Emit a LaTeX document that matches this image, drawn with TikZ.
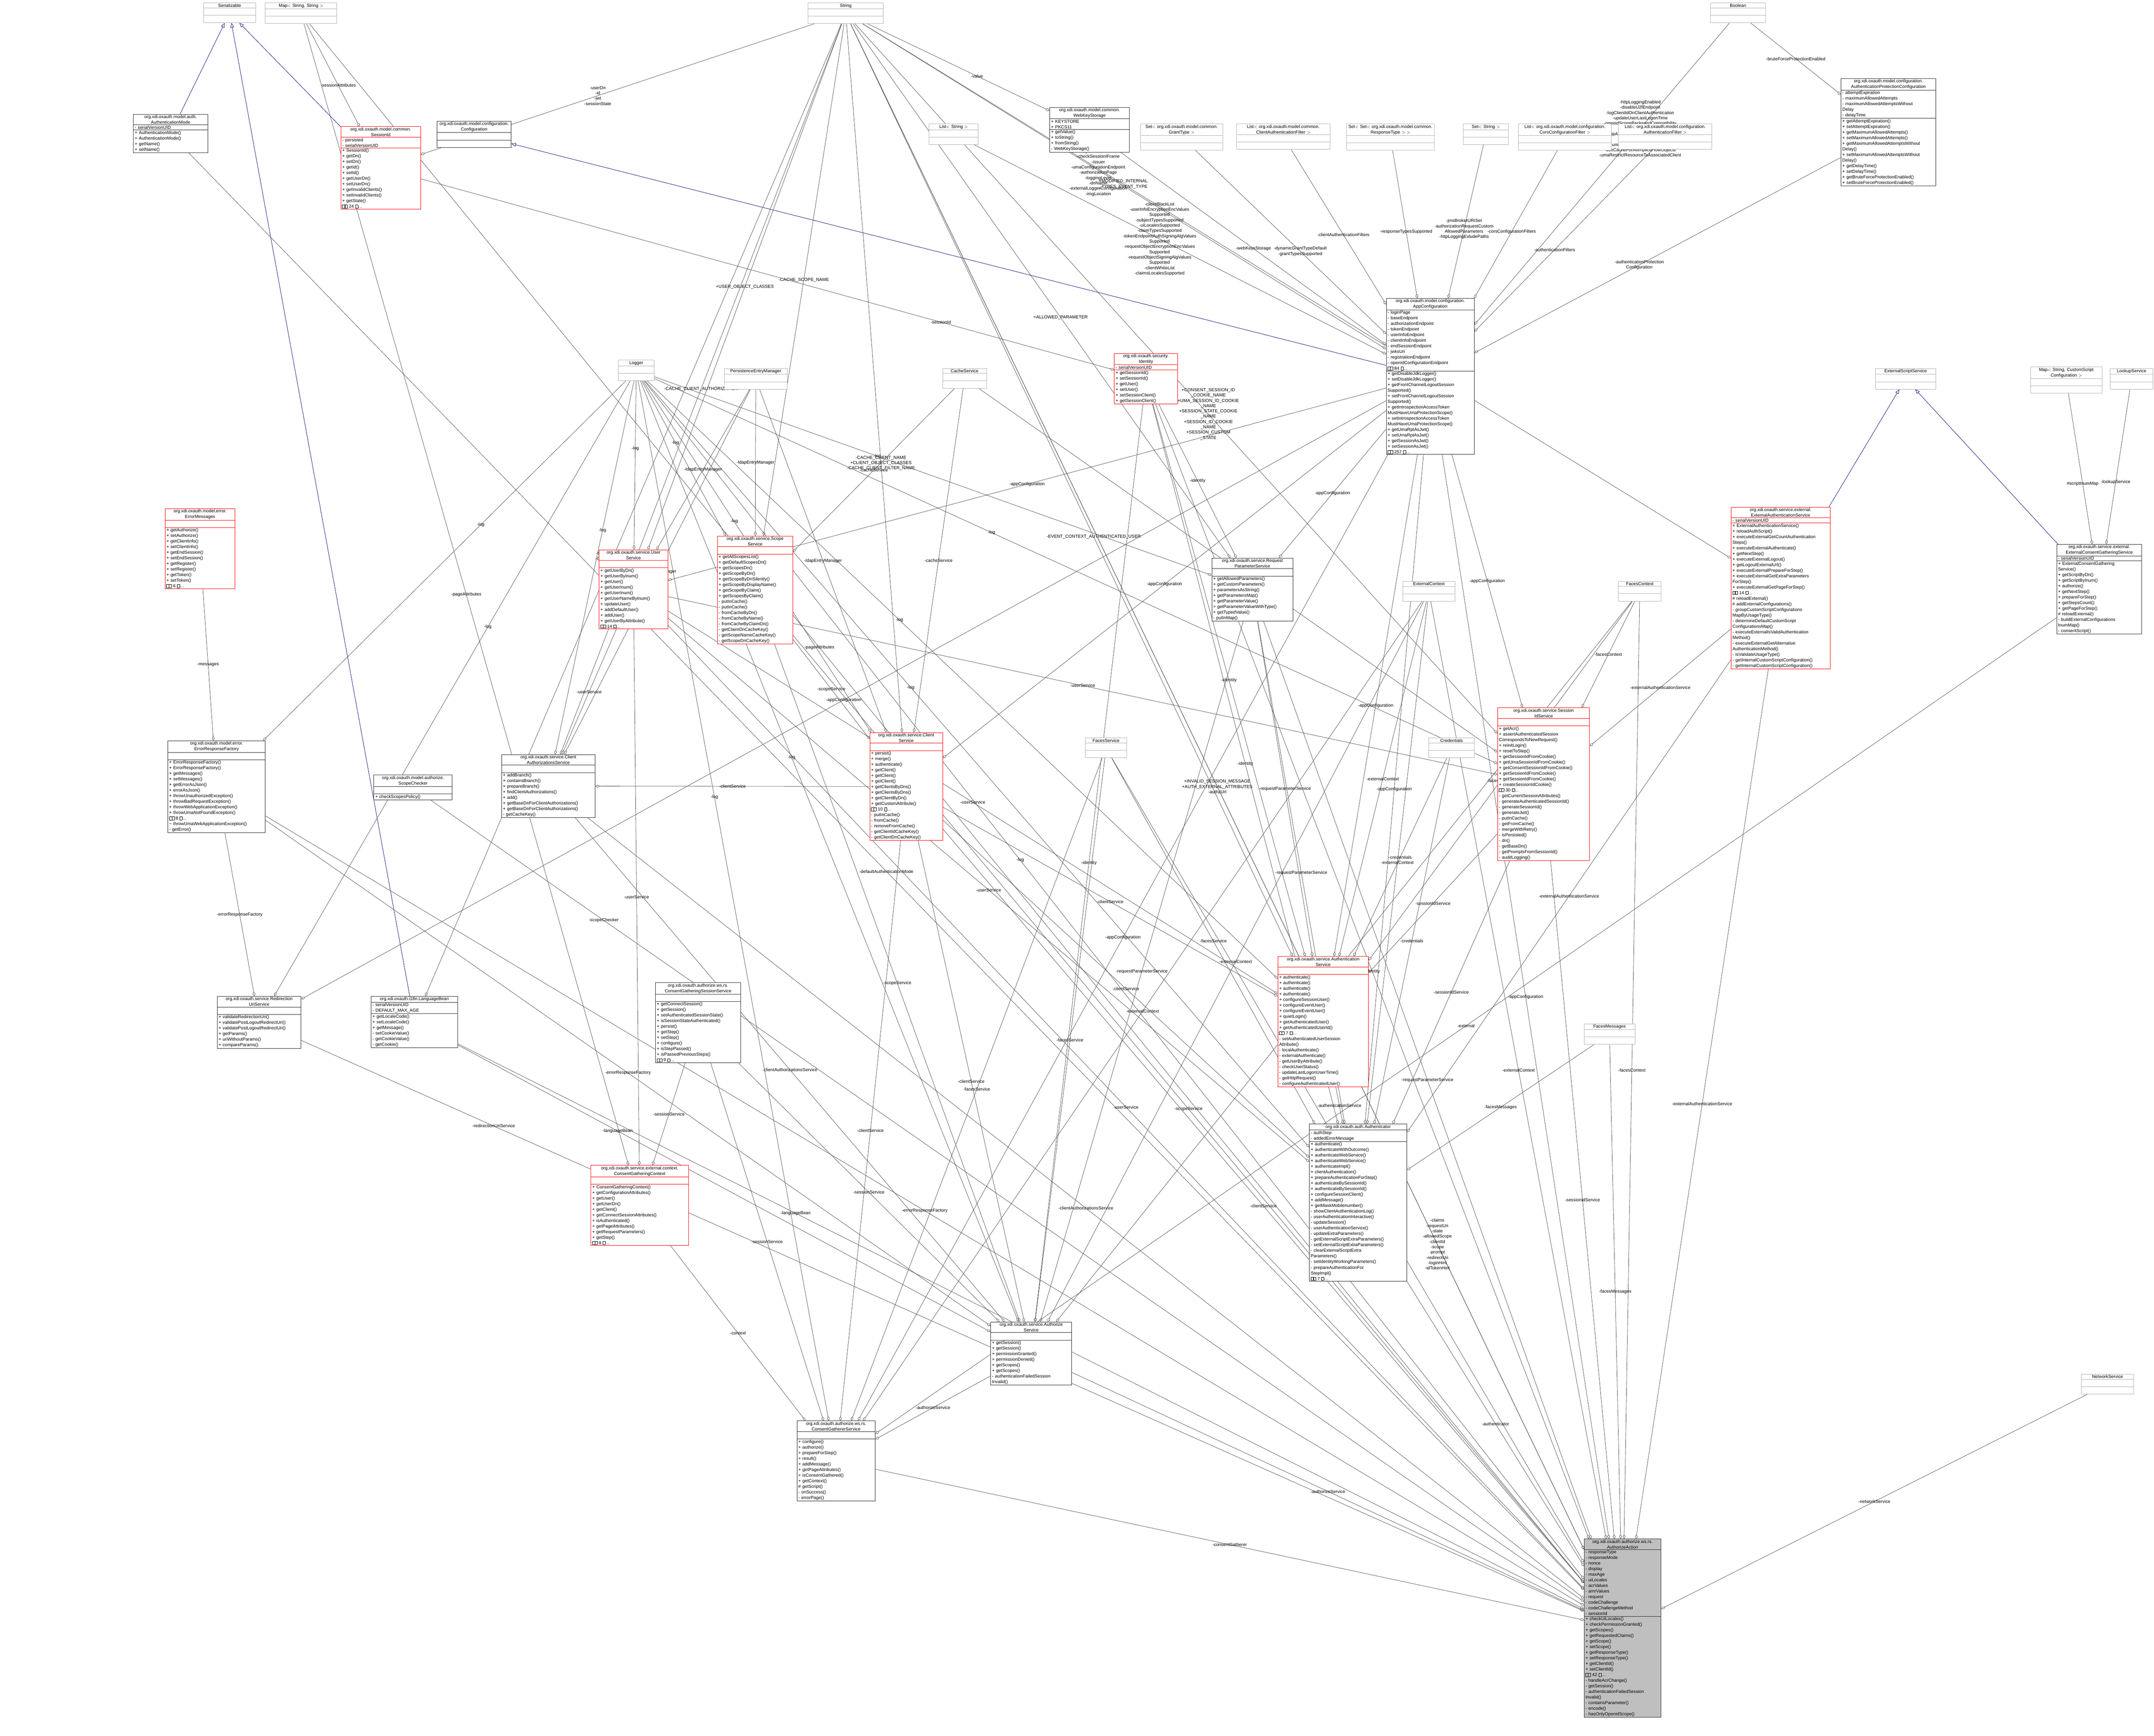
\documentclass[tikz,border=0pt]{standalone}
\usepackage{fontspec}
\setmainfont{Liberation Sans}
\usetikzlibrary{shapes.multipart,arrows.meta,backgrounds}

\newcommand{\sq}{{\fboxsep0pt\fboxrule0.15pt\fbox{\hspace{0.55em}\rule{0pt}{0.7em}}}}
\newcommand{\more}[1]{\sq\sq\ #1 \sq\ldots}
% class box: name, x, y, width, style, title, attributes, methods
\newcommand{\cls}[8]{%
  \pgfmathsetlengthmacro\clsw{#4*1mm-2mm}%
  \node[clsbox, #5, text width=\clsw] (#1) at (#2,-#3)
    {\centering #6\par\nodepart{two}\raggedright #7\par\nodepart{three}\raggedright #8\par};}

\tikzset{
  clsbox/.style={rectangle split, rectangle split parts=3, draw, fill=white,
    anchor=north west, inner xsep=1mm, inner ysep=0.5mm, line width=0.3mm,
    font=\fontsize{9.2pt}{11.6pt}\selectfont},
  plain/.style={draw=black!85},
  redb/.style={draw=red},
  grayb/.style={draw=black!30},
  selfb/.style={draw=black!85, fill=black!25},
  comp/.style={draw=black!70, line width=0.25mm,
    -{Diamond[open,length=3.2mm,width=2mm]}},
  inh/.style={draw=blue!45!black, line width=0.25mm,
    -{Triangle[open,length=3.2mm,width=2.6mm]}},
  lbl/.style={font=\fontsize{9.2pt}{11pt}\selectfont, align=center, inner sep=0.5mm}
}

\begin{document}
\begin{tikzpicture}[x=1mm,y=1mm]
\useasboundingbox (0,0) rectangle (1568,-1263.3);

% external types
\cls{serializable}{148}{2}{38}{grayb}{Serializable}{\strut}{\strut}
\cls{mapSS}{193}{2}{52}{grayb}{Map$<$ String, String $>$}{\strut}{\strut}
\cls{string}{588}{2}{55}{grayb}{String}{\strut}{\strut}
\cls{boolean}{1245}{2}{40}{grayb}{Boolean}{\strut}{\strut}
\cls{listString}{676}{90}{36}{grayb}{List$<$ String $>$}{\strut}{\strut}
\cls{setGrant}{830}{90}{60}{grayb}{Set$<$ org.xdi.oxauth.model.common.\\GrantType $>$}{\strut}{\strut}
\cls{listClientFilter}{900}{90}{68}{grayb}{List$<$ org.xdi.oxauth.model.common.\\ClientAuthenticationFilter $>$}{\strut}{\strut}
\cls{setResponse}{980}{90}{64}{grayb}{Set$<$ Set$<$ org.xdi.oxauth.model.common.\\ResponseType $>$ $>$}{\strut}{\strut}
\cls{setString}{1065}{90}{33}{grayb}{Set$<$ String $>$}{\strut}{\strut}
\cls{listCors}{1105}{90}{68}{grayb}{List$<$ org.xdi.oxauth.model.configuration.\\CorsConfigurationFilter $>$}{\strut}{\strut}
\cls{listAuthFilter}{1178}{90}{68}{grayb}{List$<$ org.xdi.oxauth.model.configuration.\\AuthenticationFilter $>$}{\strut}{\strut}
\cls{logger}{450}{262}{26}{grayb}{Logger}{\strut}{\strut}
\cls{persistence}{527}{268}{46}{grayb}{PersistenceEntryManager}{\strut}{\strut}
\cls{cacheSvc}{686}{268}{32}{grayb}{CacheService}{\strut}{\strut}
\cls{extScriptSvc}{1365}{268}{44}{grayb}{ExternalScriptService}{\strut}{\strut}
\cls{mapScript}{1478}{267}{52}{grayb}{Map$<$ String, CustomScript\\Configuration $>$}{\strut}{\strut}
\cls{lookupSvc}{1536}{268}{31}{grayb}{LookupService}{\strut}{\strut}
\cls{extContext}{1021}{423}{38}{grayb}{ExternalContext}{\strut}{\strut}
\cls{facesContext}{1178}{423}{31}{grayb}{FacesContext}{\strut}{\strut}
\cls{facesSvc}{790}{537}{30}{grayb}{FacesService}{\strut}{\strut}
\cls{credentials}{1040}{537}{33}{grayb}{Credentials}{\strut}{\strut}
\cls{facesMessages}{1153}{745}{37}{grayb}{FacesMessages}{\strut}{\strut}
\cls{networkSvc}{1515}{1000}{38}{grayb}{NetworkService}{\strut}{\strut}

% model classes
\cls{authMode}{97}{83}{54}{plain}{org.xdi.oxauth.model.auth.\\AuthenticationMode}{- serialVersionUID}
  {+ AuthenticationMode()\\+ AuthenticationMode()\\+ getName()\\+ setName()}
\cls{sessionId}{248}{92}{58}{redb}{org.xdi.oxauth.model.common.\\SessionId}{- persisted\\- serialVersionUID}
  {+ SessionId()\\+ getDn()\\+ setDn()\\+ getId()\\+ setId()\\+ getUserDn()\\+ setUserDn()\\+ getInvalidClients()\\+ setInvalidClients()\\+ getState()\\\more{24}}
\cls{configuration}{318}{88}{54}{plain}{org.xdi.oxauth.model.configuration.\\Configuration}{\strut}{\strut}
\cls{webKeyStorage}{764}{78}{58}{plain}{org.xdi.oxauth.model.common.\\WebKeyStorage}{+ KEYSTORE\\+ PKCS11}
  {+ getValue()\\+ toString()\\+ fromString()\\- WebKeyStorage()}
\cls{protConfig}{1340}{57}{69}{plain}{org.xdi.oxauth.model.configuration.\\AuthenticationProtectionConfiguration}
  {- attemptExpiration\\- maximumAllowedAttempts\\- maximumAllowedAttemptsWithout\\Delay\\- delayTime}
  {+ getAttemptExpiration()\\+ setAttemptExpiration()\\+ getMaximumAllowedAttempts()\\+ setMaximumAllowedAttempts()\\+ getMaximumAllowedAttemptsWithout\\Delay()\\+ setMaximumAllowedAttemptsWithout\\Delay()\\+ getDelayTime()\\+ setDelayTime()\\+ getBruteForceProtectionEnabled()\\+ setBruteForceProtectionEnabled()}
\cls{appConfig}{1009}{217}{64}{plain}{org.xdi.oxauth.model.configuration.\\AppConfiguration}
  {- loginPage\\- baseEndpoint\\- authorizationEndpoint\\- tokenEndpoint\\- userInfoEndpoint\\- clientInfoEndpoint\\- endSessionEndpoint\\- jwksUri\\- registrationEndpoint\\- openIdConfigurationEndpoint\\\more{84}}
  {+ getDisableJdkLogger()\\+ setDisableJdkLogger()\\+ getFrontChannelLogoutSession\\Supported()\\+ setFrontChannelLogoutSession\\Supported()\\+ getIntrospectionAccessToken\\MustHaveUmaProtectionScope()\\+ setIntrospectionAccessToken\\MustHaveUmaProtectionScope()\\+ getUmaRptAsJwt()\\+ setUmaRptAsJwt()\\+ getSessionAsJwt()\\+ setSessionAsJwt()\\\more{257}}
\cls{identity}{811}{257}{46}{redb}{org.xdi.oxauth.security.\\Identity}{- serialVersionUID}
  {+ getSessionId()\\+ setSessionId()\\+ getUser()\\+ setUser()\\+ setSessionClient()\\+ getSessionClient()}
\cls{errorMessages}{120}{370}{51}{redb}{org.xdi.oxauth.model.error.\\ErrorMessages}{\strut}
  {+ getAuthorize()\\+ setAuthorize()\\+ getClientInfo()\\+ setClientInfo()\\+ getEndSession()\\+ setEndSession()\\+ getRegister()\\+ setRegister()\\+ getToken()\\+ setToken()\\\more{6}}

% services
\cls{userSvc}{436}{400}{50}{redb}{org.xdi.oxauth.service.User\\Service}{\strut}
  {+ getUserByDn()\\+ getUserByInum()\\+ getUser()\\+ getUserInum()\\+ getUserInum()\\+ getUserNameByInum()\\+ updateUser()\\+ addDefaultUser()\\+ addUser()\\+ getUserByAttribute()\\\more{14}}
\cls{scopeSvc}{522}{390}{55}{redb}{org.xdi.oxauth.service.Scope\\Service}{\strut}
  {+ getAllScopesList()\\+ getDefaultScopesDn()\\+ getScopesDn()\\+ getScopeByDn()\\+ getScopeByDnSilently()\\+ getScopeByDisplayName()\\+ getScopeByClaim()\\+ getScopesByClaim()\\- putInCache()\\- putInCache()\\- fromCacheByDn()\\- fromCacheByName()\\- fromCacheByClaimDn()\\- getClaimDnCacheKey()\\- getScopeNameCacheKey()\\- getScopeDnCacheKey()}
\cls{clientSvc}{633}{533}{53}{redb}{org.xdi.oxauth.service.Client\\Service}{\strut}
  {+ persist()\\+ merge()\\+ authenticate()\\+ getClient()\\+ getClient()\\+ getClient()\\+ getClientsByDns()\\+ getClientsByDns()\\+ getClientByDn()\\+ getCustomAttribute()\\\more{10}\\- putInCache()\\- fromCache()\\- removeFromCache()\\- getClientIdCacheKey()\\- getClientDnCacheKey()}
\cls{requestParamSvc}{882}{406}{59}{plain}{org.xdi.oxauth.service.Request\\ParameterService}{\strut}
  {+ getAllowedParameters()\\+ getCustomParameters()\\+ parametersAsString()\\+ getParametersMap()\\+ getParameterValue()\\+ getParameterValueWithType()\\+ getTypedValue()\\- putInMap()}
\cls{extAuthSvc}{1260}{369}{72}{redb}{org.xdi.oxauth.service.external.\\ExternalAuthenticationService}{- serialVersionUID}
  {+ ExternalAuthenticationService()\\+ reloadAuthScript()\\+ executeExternalGetCountAuthentication\\Steps()\\+ executeExternalAuthenticate()\\+ getNextStep()\\+ executeExternalLogout()\\+ getLogoutExternalUrl()\\+ executeExternalPrepareForStep()\\+ executeExternalGetExtraParameters\\ForStep()\\+ executeExternalGetPageForStep()\\\more{14}\\\# reloadExternal()\\\# addExternalConfigurations()\\- groupCustomScriptConfigurations\\MapByUsageType()\\- determineDefaultCustomScript\\ConfigurationsMap()\\- executeExternalIsValidAuthentication\\Method()\\- executeExternalGetAlternative\\AuthenticationMethod()\\- isValidateUsageType()\\- getInternalCustomScriptConfiguration()\\- getInternalCustomScriptConfiguration()}
\cls{extConsentSvc}{1497}{396}{62}{plain}{org.xdi.oxauth.service.external.\\ExternalConsentGatheringService}{- serialVersionUID}
  {+ ExternalConsentGathering\\Service()\\+ getScriptByDn()\\+ getScriptByInum()\\+ authorize()\\+ getNextStep()\\+ prepareForStep()\\+ getStepsCount()\\+ getPageForStep()\\\# reloadExternal()\\- buildExternalConfigurations\\InumMap()\\- consentScript()}
\cls{sessionIdSvc}{1090}{515}{67}{redb}{org.xdi.oxauth.service.Session\\IdService}{\strut}
  {+ getAcr()\\+ assertAuthenticatedSession\\CorrespondsToNewRequest()\\+ reinitLogin()\\+ resetToStep()\\+ getSessionIdFromCookie()\\+ getUmaSessionIdFromCookie()\\+ getConsentSessionIdFromCookie()\\+ getSessionIdFromCookie()\\+ getSessionIdFromCookie()\\+ createSessionIdCookie()\\\more{30}\\- getCurrentSessionAttributes()\\- generateAuthenticatedSessionId()\\- generateSessionId()\\- generateJwt()\\- putInCache()\\- getFromCache()\\- mergeWithRetry()\\- isPersisted()\\- dn()\\- getBaseDn()\\- getPromptsFromSessionId()\\- auditLogging()}
\cls{errorFactory}{122}{539}{71}{plain}{org.xdi.oxauth.model.error.\\ErrorResponseFactory}{\strut}
  {+ ErrorResponseFactory()\\+ ErrorResponseFactory()\\+ getMessages()\\+ setMessages()\\+ getErrorAsJson()\\+ errorAsJson()\\+ throwUnauthorizedException()\\+ throwBadRequestException()\\+ throwWebApplicationException()\\+ throwUmaNotFoundException()\\\more{8}\\\textasciitilde\ throwUmaWebApplicationException()\\- getError()}
\cls{scopeChecker}{272}{564}{57}{plain}{org.xdi.oxauth.model.authorize.\\ScopeChecker}{\strut}{+ checkScopesPolicy()}
\cls{clientAuthzSvc}{365}{549}{68}{plain}{org.xdi.oxauth.service.Client\\AuthorizationsService}{\strut}
  {+ addBranch()\\+ containsBranch()\\+ prepareBranch()\\+ findClientAuthorizations()\\+ add()\\+ getBaseDnForClientAuthorizations()\\+ getBaseDnForClientAuthorizations()\\- getCacheKey()}
\cls{authnSvc}{930}{696}{66}{redb}{org.xdi.oxauth.service.Authentication\\Service}{\strut}
  {+ authenticate()\\+ authenticate()\\+ authenticate()\\+ authenticate()\\+ configureSessionUser()\\+ configureEventUser()\\+ configureEventUser()\\+ quietLogin()\\+ getAuthenticatedUser()\\+ getAuthenticatedUserId()\\\more{7}\\- setAuthenticatedUserSession\\Attribute()\\- localAuthenticate()\\- externalAuthenticate()\\- getUserByAttribute()\\- checkUserStatus()\\- updateLastLogonUserTime()\\- getHttpRequest()\\- configureAuthenticatedUser()}
\cls{redirectSvc}{158}{725}{61}{plain}{org.xdi.oxauth.service.Redirection\\UriService}{\strut}
  {+ validateRedirectionUri()\\+ validatePostLogoutRedirectUri()\\+ validatePostLogoutRedirectUri()\\+ getParams()\\+ uriWithoutParams()\\+ compareParams()}
\cls{languageBean}{270}{725}{63}{plain}{org.xdi.oxauth.i18n.LanguageBean}{- serialVersionUID\\- DEFAULT\_MAX\_AGE}
  {+ getLocaleCode()\\+ setLocaleCode()\\+ getMessage()\\- setCookieValue()\\- getCookieValue()\\- getCookie()}
\cls{consentSessionSvc}{477}{715}{62}{plain}{org.xdi.oxauth.authorize.ws.rs.\\ConsentGatheringSessionService}{\strut}
  {+ getConnectSession()\\+ getSession()\\+ setAuthenticatedSessionState()\\+ isSessionStateAuthenticated()\\+ persist()\\+ getStep()\\+ setStep()\\+ configure()\\+ isStepPassed()\\+ isPassedPreviousSteps()\\\more{9}}
\cls{authenticator}{953}{818}{71}{plain}{org.xdi.oxauth.auth.Authenticator}{- authStep\\- addedErrorMessage}
  {+ authenticate()\\+ authenticateWithOutcome()\\+ authenticateWebService()\\+ authenticateWebService()\\+ authenticateImpl()\\+ clientAuthentication()\\+ prepareAuthenticationForStep()\\+ authenticateBySessionId()\\+ authenticateBySessionId()\\+ configureSessionClient()\\+ addMessage()\\+ getMaskMobilenumber()\\- showClientAuthenticationLog()\\- userAuthenticationInteractive()\\- updateSession()\\- userAuthenticationService()\\- updateExtraParameters()\\- getExternalScriptExtraParameters()\\- setExternalScriptExtraParameters()\\- clearExternalScriptExtra\\Parameters()\\- setIdentityWorkingParameters()\\- prepareAuthenticationFor\\StepImpl()\\\more{7}}
\cls{consentContext}{430}{848}{71}{redb}{org.xdi.oxauth.service.external.context.\\ConsentGatheringContext}{\strut}
  {+ ConsentGatheringContext()\\+ getConfigurationAttributes()\\+ getUser()\\+ getUserDn()\\+ getClient()\\+ getConnectSessionAttributes()\\+ isAuthenticated()\\+ getPageAttributes()\\+ getRequestParameters()\\+ getStep()\\\more{8}}
\cls{authorizeSvc}{721}{962}{59}{plain}{org.xdi.oxauth.service.Authorize\\Service}{\strut}
  {+ getSession()\\+ getSession()\\+ permissionGranted()\\+ permissionDenied()\\+ getScopes()\\+ getScopes()\\- authenticationFailedSession\\Invalid()}
\cls{consentGatherer}{580}{1034}{57}{plain}{org.xdi.oxauth.authorize.ws.rs.\\ConsentGathererService}{\strut}
  {+ configure()\\+ authorize()\\+ prepareForStep()\\+ result()\\+ addMessage()\\+ getPageAttributes()\\+ isConsentGathered()\\+ getContext()\\\# getScript()\\- onSuccess()\\- errorPage()}
\cls{authAction}{1153}{1120}{56}{selfb}{org.xdi.oxauth.authorize.ws.rs.\\AuthorizeAction}
  {- responseType\\- responseMode\\- nonce\\- display\\- maxAge\\- uiLocales\\- acrValues\\- amrValues\\- request\\- codeChallenge\\- codeChallengeMethod\\- sessionId}
  {+ checkUiLocales()\\+ checkPermissionGranted()\\+ getScopes()\\+ getRequestedClaims()\\+ getScope()\\+ setScope()\\+ getResponseType()\\+ setResponseType()\\+ getClientId()\\+ setClientId()\\\more{42}\\- handleAcrChange()\\- getSession()\\- authenticationFailedSession\\Invalid()\\- containsParameter()\\- encode()\\- hasOnlyOpenidScope()}

\begin{pgfonlayer}{background}
  % inheritance
  \foreach \s/\t in {authMode/serializable, sessionId/serializable, languageBean/serializable,
      appConfig/configuration, extAuthSvc/extScriptSvc, extConsentSvc/extScriptSvc}
    \draw[inh] (\s) -- (\t);
  % members
  \draw[comp] (string) -- (sessionId) node[lbl, pos=0.55] {-userDn\\-id\\-jwt\\-sessionState};
  \draw[comp] (mapSS) -- (sessionId) node[lbl, pos=0.6] {-sessionAttributes};
  \draw[comp] (string) -- (webKeyStorage) node[lbl, pos=0.6] {-value};
  \draw[comp] (boolean) -- (protConfig) node[lbl, pos=0.5] {-bruteForceProtectionEnabled};
  \draw[comp] (string) -- (appConfig) node[lbl, pos=0.45] {-openIdDiscoveryEndpoint\\-jmsPassword\\-checkSessionIFrame\\-issuer\\-umaConfigurationEndpoint\\-authorizationPage\\-loggingLevel\\-dnName\\-externalLoggerConfiguration\\-imgLocation};
  \draw[comp] (listString) -- (appConfig) node[lbl, pos=0.45] {-clientBlackList\\-userInfoEncryptionEncValues\\Supported\\-subjectTypesSupported\\-uiLocalesSupported\\-claimTypesSupported\\-tokenEndpointAuthSigningAlgValues\\Supported\\-requestObjectEncryptionEncValues\\Supported\\-requestObjectSigningAlgValues\\Supported\\-clientWhiteList\\-claimsLocalesSupported};
  \draw[comp] (webKeyStorage) -- (appConfig) node[lbl, pos=0.5] {-webKeysStorage};
  \draw[comp] (setGrant) -- (appConfig) node[lbl, pos=0.55] {-dynamicGrantTypeDefault\\-grantTypesSupported};
  \draw[comp] (listClientFilter) -- (appConfig) node[lbl, pos=0.55] {-clientAuthenticationFilters};
  \draw[comp] (setResponse) -- (appConfig) node[lbl, pos=0.55] {-responseTypesSupported};
  \draw[comp] (setString) -- (appConfig) node[lbl, pos=0.55] {-jmsBrokerURISet\\-authorizationRequestCustom\\AllowedParameters\\-httpLoggingExludePaths};
  \draw[comp] (listCors) -- (appConfig) node[lbl, pos=0.55] {-corsConfigurationFilters};
  \draw[comp] (listAuthFilter) -- (appConfig) node[lbl, pos=0.55] {-authenticationFilters};
  \draw[comp] (boolean) -- (appConfig) node[lbl, pos=0.35] {-httpLoggingEnabled\\-disableU2fEndpoint\\-logClientIdOnClientAuthentication\\-updateUserLastLogonTime\\-openidScopeBackwardCompatibility\\-disableJdkLogger\\-skipAuthorizationForOpenIdScope\\AndPairwiseId\\-umaGrantAccessIfNoPolicies\\-useCacheForAllImplicitFlowObjects\\-umaRestrictResourceToAssociatedClient};
  \draw[comp] (protConfig) -- (appConfig) node[lbl, pos=0.55] {-authenticationProtection\\Configuration};
  \draw[comp] (string) -- (userSvc) node[lbl, pos=0.5] {+USER\_OBJECT\_CLASSES};
  \draw[comp] (string) -- (scopeSvc) node[lbl, pos=0.5] {-CACHE\_SCOPE\_NAME};
  \draw[comp] (string) -- (clientSvc) node[lbl, pos=0.62] {-CACHE\_CLIENT\_NAME\\+CLIENT\_OBJECT\_CLASSES\\-CACHE\_CLIENT\_FILTER\_NAME};
  \draw[comp] (string) -- (clientAuthzSvc) node[lbl, pos=0.5] {-CACHE\_CLIENT\_AUTHORIZATION};
  \draw[comp] (string) -- (languageBean) node[lbl, pos=0.55] {-COOKIE\_PATH\\-COOKIE\_NAME\\-localeCode};
  \draw[comp] (string) -- (requestParamSvc) node[lbl, pos=0.55] {+ALLOWED\_PARAMETER};
  \draw[comp] (string) -- (authnSvc) node[lbl, pos=0.55] {-EVENT\_CONTEXT\_AUTHENTICATED\_USER};
  \draw[comp] (string) -- (sessionIdSvc) node[lbl, pos=0.55] {+CONSENT\_SESSION\_ID\\\_COOKIE\_NAME\\+UMA\_SESSION\_ID\_COOKIE\\\_NAME\\+SESSION\_STATE\_COOKIE\\\_NAME\\+SESSION\_ID\_COOKIE\\\_NAME\\+SESSION\_CUSTOM\\\_STATE};
  \draw[comp] (string) -- (extAuthSvc) node[lbl, pos=0.3] {+MODIFIED\_INTERNAL\\\_TYPES\_EVENT\_TYPE};
  \draw[comp] (string) -- (authAction) node[lbl, pos=0.5] {+INVALID\_SESSION\_MESSAGE\\+AUTH\_EXTERNAL\_ATTRIBUTES\\-authzUrl};
  \draw[comp] (string) -- (authAction) node[lbl, pos=0.8] {-claims\\-requestUri\\-state\\-allowedScope\\-clientId\\-scope\\-prompt\\-redirectUri\\-loginHint\\-idTokenHint};
  \draw[comp] (sessionId) -- (identity) node[lbl, pos=0.75] {-sessionId};
  \draw[comp] (mapSS) -- (consentContext) node[lbl, pos=0.5] {-pageAttributes};
  \draw[comp] (mapSS) -- (authAction) node[lbl, pos=0.4] {-pageAttributes};
  \draw[comp] (authMode) -- (authAction) node[lbl, pos=0.5] {-defaultAuthenticationMode};
  \draw[comp] (errorMessages) -- (errorFactory) node[lbl, pos=0.5] {-messages};
  \draw[comp] (mapScript) -- (extConsentSvc) node[lbl, pos=0.6] {\#scriptInumMap};
  \draw[comp] (lookupSvc) -- (extConsentSvc) node[lbl, pos=0.6] {-lookupService};
  \foreach \t in {userSvc, scopeSvc, clientSvc, clientAuthzSvc, sessionIdSvc, authnSvc,
      authenticator, authAction, errorFactory, redirectSvc, requestParamSvc, consentGatherer, authorizeSvc}
    \draw[comp] (logger) -- (\t) node[lbl, pos=0.4] {-log};
  \foreach \t in {userSvc, scopeSvc, clientSvc, clientAuthzSvc}
    \draw[comp] (persistence) -- (\t) node[lbl, pos=0.5] {-ldapEntryManager};
  \foreach \t in {scopeSvc, clientSvc, sessionIdSvc}
    \draw[comp] (cacheSvc) -- (\t) node[lbl, pos=0.5] {-cacheService};
  \foreach \t in {userSvc, clientSvc, requestParamSvc, sessionIdSvc, authnSvc, authenticator,
      authAction, consentGatherer, redirectSvc}
    \draw[comp] (appConfig) -- (\t) node[lbl, pos=0.5] {-appConfiguration};
  \foreach \t in {requestParamSvc, authnSvc, authenticator, authAction, authorizeSvc}
    \draw[comp] (identity) -- (\t) node[lbl, pos=0.5] {-identity};
  \foreach \t in {authnSvc, authenticator, authAction, authorizeSvc, consentGatherer}
    \draw[comp] (extContext) -- (\t) node[lbl, pos=0.5] {-externalContext};
  \foreach \t in {sessionIdSvc, authnSvc, authAction, authorizeSvc}
    \draw[comp] (facesContext) -- (\t) node[lbl, pos=0.5] {-facesContext};
  \foreach \t in {sessionIdSvc, authenticator, authAction}
    \draw[comp] (extAuthSvc) -- (\t) node[lbl, pos=0.5] {-externalAuthenticationService};
  \draw[comp] (extConsentSvc) -- (consentGatherer) node[lbl, pos=0.5] {-external};
  \foreach \t in {clientAuthzSvc, authnSvc, authenticator, authAction, consentContext, sessionIdSvc}
    \draw[comp] (userSvc) -- (\t) node[lbl, pos=0.5] {-userService};
  \foreach \t in {clientSvc, authorizeSvc, authAction}
    \draw[comp] (scopeSvc) -- (\t) node[lbl, pos=0.5] {-scopeService};
  \foreach \t in {clientAuthzSvc, authorizeSvc, authenticator, authnSvc, authAction, consentGatherer}
    \draw[comp] (clientSvc) -- (\t) node[lbl, pos=0.5] {-clientService};
  \foreach \t in {authorizeSvc, authAction}
    \draw[comp] (clientAuthzSvc) -- (\t) node[lbl, pos=0.5] {-clientAuthorizationsService};
  \foreach \t in {authnSvc, authenticator, authorizeSvc, authAction}
    \draw[comp] (requestParamSvc) -- (\t) node[lbl, pos=0.5] {-requestParameterService};
  \foreach \t in {authnSvc, authenticator, authAction}
    \draw[comp] (sessionIdSvc) -- (\t) node[lbl, pos=0.5] {-sessionIdService};
  \foreach \t in {authnSvc, authenticator}
    \draw[comp] (credentials) -- (\t) node[lbl, pos=0.5] {-credentials};
  \foreach \t in {authAction, authenticator, authorizeSvc, consentGatherer}
    \draw[comp] (facesSvc) -- (\t) node[lbl, pos=0.5] {-facesService};
  \foreach \t in {authenticator, authAction}
    \draw[comp] (facesMessages) -- (\t) node[lbl, pos=0.5] {-facesMessages};
  \draw[comp] (authnSvc) -- (authenticator) node[lbl, pos=0.5] {-authenticationService};
  \foreach \t in {redirectSvc, authAction, authorizeSvc}
    \draw[comp] (errorFactory) -- (\t) node[lbl, pos=0.5] {-errorResponseFactory};
  \draw[comp] (redirectSvc) -- (authAction) node[lbl, pos=0.15] {-redirectionUriService};
  \draw[comp] (scopeChecker) -- (authAction) node[lbl, pos=0.15] {-scopeChecker};
  \foreach \t in {authAction, authorizeSvc}
    \draw[comp] (languageBean) -- (\t) node[lbl, pos=0.3] {-languageBean};
  \foreach \t in {consentGatherer, consentContext, authorizeSvc}
    \draw[comp] (consentSessionSvc) -- (\t) node[lbl, pos=0.5] {-sessionService};
  \draw[comp] (consentContext) -- (consentGatherer) node[lbl, pos=0.5] {-context};
  \draw[comp] (authorizeSvc) -- (consentGatherer) node[lbl, pos=0.5] {-authorizeService};
  \draw[comp] (authorizeSvc) -- (authAction) node[lbl, pos=0.5] {-authorizeService};
  \draw[comp] (consentGatherer) -- (authAction) node[lbl, pos=0.5] {-consentGatherer};
  \draw[comp] (authenticator) -- (authAction) node[lbl, pos=0.5] {-authenticator};
  \draw[comp] (networkSvc) -- (authAction) node[lbl, pos=0.5] {-networkService};
\end{pgfonlayer}
\end{tikzpicture}
\end{document}
